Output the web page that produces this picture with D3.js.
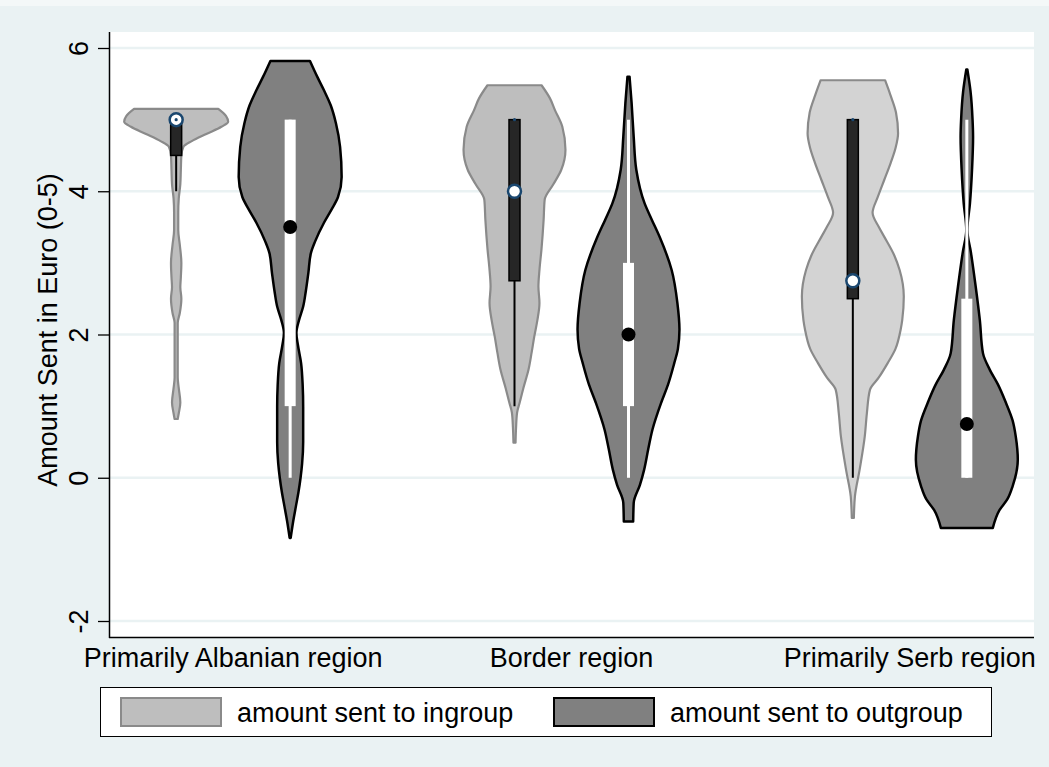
<!DOCTYPE html>
<html lang="en">
<head>
    <meta charset="UTF-8">
    <title>Violin plot</title>
    <style>
        body { margin: 0; background: #f4f8f8; }
        text { font-family: "Liberation Sans", Arial, sans-serif; }
    </style>
</head>
<body>
<script src="https://d3js.org/d3.v7.min.js"></script>
<script>

    let w = 1049, h = 767;
    let plot = {left: 109, right: 1034, top: 32, bottom: 638};
    let fontSize = "27px";

    // categories / ticks
    let regions = ["Primarily Albanian region", "Border region", "Primarily Serb region"];
    let groups = ["amount sent to ingroup", "amount sent to outgroup"];
    let yTicks = [-2, 0, 2, 4, 6];

    // density: [value, relative density]
    let albanianIn = [[5.15, 0.81], [5.05, 0.96], [4.97, 1.0], [4.9, 0.87], [4.8, 0.58], [4.7, 0.3],
        [4.62, 0.14], [4.5, 0.1], [4.3, 0.09], [4.1, 0.08], [3.9, 0.05], [3.7, 0.04], [3.46, 0.04],
        [3.25, 0.07], [3.0, 0.1], [2.8, 0.09], [2.66, 0.08], [2.5, 0.1], [2.3, 0.07], [2.16, 0.03],
        [1.8, 0.03], [1.4, 0.03], [1.25, 0.05], [1.05, 0.08], [0.9, 0.05], [0.82, 0.03]];
    let albanianOut = [[5.82, 0.38], [5.6, 0.52], [5.41, 0.65], [5.2, 0.78], [4.95, 0.88], [4.62, 0.96],
        [4.2, 0.99], [3.92, 0.92], [3.75, 0.8], [3.56, 0.65], [3.3, 0.48], [3.14, 0.4], [2.86, 0.35],
        [2.6, 0.3], [2.39, 0.25], [2.2, 0.17], [2.02, 0.12], [1.85, 0.15], [1.6, 0.21], [1.3, 0.24],
        [0.99, 0.25], [0.7, 0.25], [0.5, 0.25], [0.2, 0.23], [0.0, 0.2], [-0.2, 0.16], [-0.4, 0.11],
        [-0.6, 0.06], [-0.84, 0.01]];
    let borderIn = [[5.48, 0.52], [5.3, 0.68], [5.13, 0.78], [4.9, 0.92], [4.58, 0.98], [4.3, 0.9],
        [4.1, 0.75], [3.88, 0.58], [3.6, 0.56], [3.2, 0.52], [2.9, 0.48], [2.67, 0.46], [2.44, 0.48],
        [2.2, 0.44], [1.97, 0.38], [1.75, 0.33], [1.51, 0.27], [1.25, 0.17], [1.05, 0.1], [0.91, 0.05],
        [0.7, 0.03], [0.49, 0.02]];
    let borderOut = [[5.6, 0.02], [5.23, 0.06], [4.76, 0.1], [4.3, 0.15], [3.83, 0.31], [3.6, 0.45],
        [3.36, 0.6], [2.9, 0.83], [2.44, 0.94], [2.07, 0.98], [1.8, 0.95], [1.6, 0.88], [1.3, 0.76],
        [1.05, 0.63], [0.67, 0.46], [0.4, 0.38], [0.11, 0.3], [-0.1, 0.22], [-0.35, 0.1], [-0.61, 0.09]];
    let serbIn = [[5.55, 0.62], [5.35, 0.72], [5.1, 0.83], [4.81, 0.87], [4.6, 0.82], [4.4, 0.73],
        [4.15, 0.6], [3.92, 0.48], [3.7, 0.38], [3.5, 0.5], [3.37, 0.6], [3.1, 0.8], [2.9, 0.9],
        [2.53, 0.98], [2.2, 0.95], [2.07, 0.92], [1.8, 0.82], [1.6, 0.67], [1.4, 0.5], [1.23, 0.33],
        [0.9, 0.27], [0.58, 0.23], [0.11, 0.13], [-0.26, 0.04], [-0.56, 0.02]];
    let serbOut = [[5.7, 0.01], [5.4, 0.07], [5.0, 0.11], [4.76, 0.12], [4.3, 0.1], [3.83, 0.06],
        [3.46, 0.01], [3.14, 0.08], [2.67, 0.17], [2.2, 0.25], [1.74, 0.31], [1.51, 0.44], [1.3, 0.6],
        [1.05, 0.75], [0.8, 0.88], [0.58, 0.94], [0.25, 0.98], [-0.12, 0.88], [-0.3, 0.78],
        [-0.45, 0.63], [-0.7, 0.5]];

    // box stats: [lower whisker, q1, median, q3, upper whisker]
    let albanianInBox = [4, 4.5, 5, 5, 5];
    let albanianOutBox = [0, 1, 3.5, 5, 5];
    let borderInBox = [1, 2.75, 4, 5, 5];
    let borderOutBox = [0, 1, 2, 3, 5];
    let serbInBox = [0, 2.5, 2.75, 5, 5];
    let serbOutBox = [0, 0, 0.75, 2.5, 5];

    let violins = [
        {region: regions[0], group: groups[0], dens: albanianIn, box: albanianInBox, fill: "#bebebe"},
        {region: regions[0], group: groups[1], dens: albanianOut, box: albanianOutBox, fill: "#808080"},
        {region: regions[1], group: groups[0], dens: borderIn, box: borderInBox, fill: "#bebebe"},
        {region: regions[1], group: groups[1], dens: borderOut, box: borderOutBox, fill: "#808080"},
        {region: regions[2], group: groups[0], dens: serbIn, box: serbInBox, fill: "#d3d3d3"},
        {region: regions[2], group: groups[1], dens: serbOut, box: serbOutBox, fill: "#808080"}
    ];

    let svg = d3.select("body")
        .append("svg")
        .attr("width", w)
        .attr("height", h)
        .style("display", "block");

    // graph region + plot region
    svg.append("rect").attr("x", 0).attr("y", 6).attr("width", w).attr("height", h - 6).attr("fill", "#eaf2f3");
    svg.append("rect")
        .attr("x", plot.left).attr("y", plot.top)
        .attr("width", plot.right - plot.left).attr("height", plot.bottom - plot.top)
        .attr("fill", "white");

    // scales
    let yScale = d3.scaleLinear().domain([-2, 6]).range([621, 48]);
    let xScale = d3.scalePoint().domain(regions).range([plot.left, plot.right]).padding(0.367);
    let offset = d3.scalePoint().domain(groups).range([-57, 57]);
    let widthScale = d3.scaleLinear().domain([0, 1]).range([0, 52]);

    // grid lines
    svg.append("g")
        .selectAll("line")
        .data(yTicks)
        .enter()
        .append("line")
        .attr("x1", plot.left)
        .attr("x2", plot.right)
        .attr("y1", d => yScale(d))
        .attr("y2", d => yScale(d))
        .attr("stroke", "#eaf2f3")
        .attr("stroke-width", 2.5);

    // violins
    for (let i = 0; i < violins.length; ++i) {
        let v = violins[i];
        let cx = xScale(v.region) + offset(v.group);
        let inGroup = v.group === groups[0];

        let area = d3.area()
            .curve(d3.curveMonotoneY)
            .y(d => yScale(d[0]))
            .x0(d => cx - widthScale(d[1]))
            .x1(d => cx + widthScale(d[1]));

        svg.append("path")
            .attr("d", area(v.dens))
            .attr("fill", v.fill)
            .attr("stroke", inGroup ? "#8a8a8a" : "black")
            .attr("stroke-width", inGroup ? 2.2 : 2.5)
            .attr("stroke-linejoin", "round");

        let b = v.box;
        // whisker
        svg.append("line")
            .attr("x1", cx).attr("x2", cx)
            .attr("y1", yScale(b[0])).attr("y2", yScale(b[4]))
            .attr("stroke", inGroup ? "black" : "white")
            .attr("stroke-width", inGroup ? 2 : 3);
        // box
        svg.append("rect")
            .attr("x", cx - 5.5)
            .attr("y", yScale(b[3]))
            .attr("width", 11)
            .attr("height", yScale(b[1]) - yScale(b[3]))
            .attr("fill", inGroup ? "#262626" : "white")
            .attr("stroke", inGroup ? "black" : "none")
            .attr("stroke-width", 1.5);

        // median
        if (inGroup) {
            svg.append("circle")
                .attr("cx", cx).attr("cy", yScale(b[2])).attr("r", 6.5)
                .attr("fill", "white").attr("stroke", "#1a476f").attr("stroke-width", 2.5);
            svg.append("circle")
                .attr("cx", cx).attr("cy", yScale(b[4])).attr("r", 1.6)
                .attr("fill", "#1a476f");
        } else {
            svg.append("circle")
                .attr("cx", cx).attr("cy", yScale(b[2])).attr("r", 7)
                .attr("fill", "black");
        }
    }

    // y axis (plain hyphen for negatives, as in the original)
    let yAxis = d3.axisLeft(yScale).tickValues(yTicks).tickSize(11).tickFormat(d => String(d));
    let gy = svg.append("g")
        .attr("transform", "translate(" + plot.left + ",0)")
        .call(yAxis);
    gy.select(".domain").remove();
    gy.selectAll("line").attr("stroke", "black").attr("stroke-width", 1.3);
    gy.selectAll("text")
        .attr("x", 0)
        .attr("y", -21)
        .attr("dy", null)
        .attr("transform", "rotate(-90)")
        .attr("text-anchor", "middle")
        .attr("fill", "black")
        .style("font-size", fontSize)
        .style("font-family", "Liberation Sans, Arial, sans-serif");

    // axis lines
    svg.append("line")
        .attr("x1", plot.left + 0.5).attr("x2", plot.left + 0.5)
        .attr("y1", plot.top).attr("y2", plot.bottom)
        .attr("stroke", "black").attr("stroke-width", 1.5);
    svg.append("line")
        .attr("x1", plot.left).attr("x2", plot.right)
        .attr("y1", plot.bottom - 0.5).attr("y2", plot.bottom - 0.5)
        .attr("stroke", "black").attr("stroke-width", 1.5);

    // x labels
    svg.append("g")
        .selectAll("text")
        .data(regions)
        .enter()
        .append("text")
        .attr("x", d => xScale(d))
        .attr("y", 667)
        .attr("text-anchor", "middle")
        .style("font-size", fontSize)
        .text(d => d);

    // y title
    svg.append("text")
        .attr("transform", "translate(57,330) rotate(-90)")
        .attr("text-anchor", "middle")
        .style("font-size", fontSize)
        .text("Amount Sent in Euro (0-5)");

    // legend
    svg.append("rect")
        .attr("x", 100.5).attr("y", 687.5)
        .attr("width", 891).attr("height", 49)
        .attr("fill", "white").attr("stroke", "black").attr("stroke-width", 1);

    let legendX = [121, 554];
    for (let i = 0; i < groups.length; ++i) {
        svg.append("rect")
            .attr("x", legendX[i]).attr("y", 698)
            .attr("width", 100).attr("height", 28)
            .attr("fill", i === 0 ? "#bebebe" : "#808080")
            .attr("stroke", i === 0 ? "#8a8a8a" : "black")
            .attr("stroke-width", 2);
        svg.append("text")
            .attr("x", legendX[i] + 116)
            .attr("y", 722)
            .style("font-size", fontSize)
            .text(groups[i]);
    }

</script>
</body>
</html>
